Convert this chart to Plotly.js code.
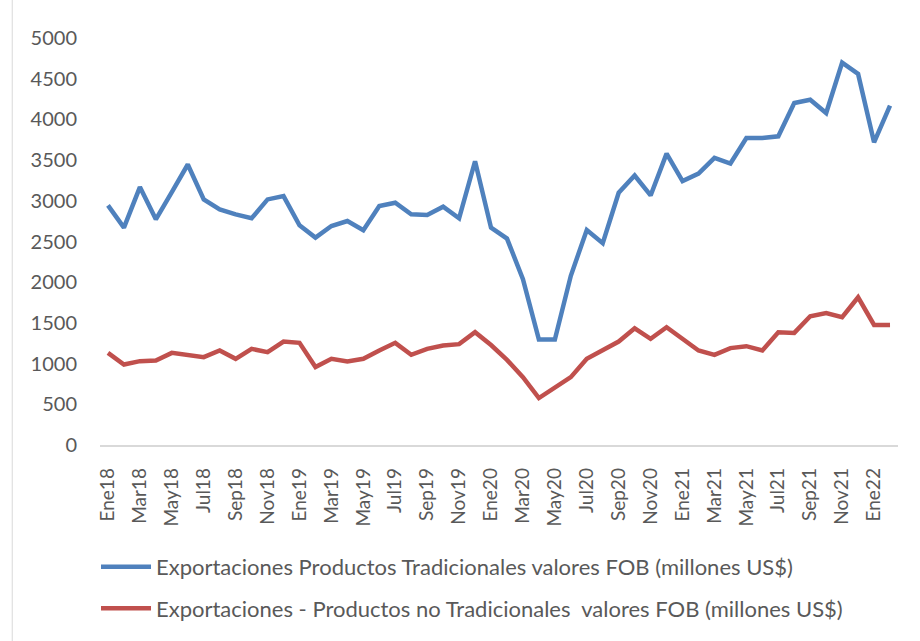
<!DOCTYPE html>
<html>
<head>
<meta charset="utf-8">
<script src="https://cdn.plot.ly/plotly-3.0.1.min.js"></script>
<style>html,body{margin:0;padding:0;background:#fff;}#chart{width:920px;height:641px;}</style>
</head>
<body>
<div id="chart"></div>
<script>
const monthNames = ["Ene","Feb","Mar","Abr","May","Jun","Jul","Ago","Sep","Oct","Nov","Dic"];
const years = ["18","19","20","21","22"];
const nPoints = 50;
const categories = [];
for (let i = 0; i < nPoints; i++) {
  categories.push(monthNames[i % 12] + years[Math.floor(i / 12)]);
}
const tickLabels = categories.filter((c, i) => i % 2 === 0);

const tradicionales = [
  2944, 2670, 3168, 2772, 3107, 3446, 3017, 2895, 2834, 2785,
  3017, 3058, 2699, 2548, 2690, 2752, 2638, 2935, 2976, 2834,
  2825, 2928, 2785, 3486, 2670, 2536, 2038, 1295, 1295, 2079,
  2642, 2479, 3099, 3311, 3066, 3580, 3242, 3335, 3528, 3458,
  3772, 3772, 3792, 4201, 4241, 4078, 4698, 4559, 3718, 4168
];
const noTradicionales = [
  1132, 989, 1030, 1038, 1132, 1108, 1079, 1161, 1059, 1181,
  1141, 1271, 1255, 957, 1059, 1026, 1059, 1161, 1255, 1108,
  1181, 1222, 1239, 1386, 1228, 1045, 834, 577, 712, 834,
  1059, 1161, 1271, 1434, 1304, 1446, 1295, 1161, 1108, 1190,
  1214, 1161, 1386, 1377, 1581, 1622, 1569, 1814, 1475, 1475
];
const seriesNames = [
  "Exportaciones Productos Tradicionales valores FOB (millones US$)",
  "Exportaciones - Productos no Tradicionales  valores FOB (millones US$)"
];

const font = "Lato, 'Open Sans', sans-serif";

const traces = [
  {x: categories, y: tradicionales, type: "scatter", mode: "lines", name: seriesNames[0],
   legendgroup: "a", line: {color: "#4f81bd", width: 4.5}},
  {x: categories, y: noTradicionales, type: "scatter", mode: "lines", name: seriesNames[1],
   legendgroup: "b", line: {color: "#c0504d", width: 4.5}}
];

const layout = {
  width: 920, height: 641,
  margin: {l: 100, r: 22, t: 38, b: 194.5},
  paper_bgcolor: "#ffffff", plot_bgcolor: "#ffffff",
  font: {family: font, color: "#595959"},
  showlegend: true,
  legend: {
    x: -0.005, xanchor: "left", y: -0.245, yanchor: "top",
    orientation: "v", traceorder: "grouped", tracegroupgap: 10,
    font: {size: 22, color: "#595959", family: font},
    itemwidth: 50
  },
  xaxis: {
    type: "category", range: [-0.5, nPoints - 0.5],
    tickmode: "array", tickvals: tickLabels, ticktext: tickLabels,
    tickangle: -90, tickfont: {size: 19, color: "#595959"},
    showgrid: false, zeroline: false, showline: true, linecolor: "#d9d9d9", linewidth: 1.5,
    ticks: "", ticklabelstandoff: 14, fixedrange: true
  },
  yaxis: {
    range: [0, 5000], dtick: 500, tick0: 0,
    tickfont: {size: 20, color: "#595959"},
    showgrid: false, zeroline: false, showline: false, ticks: "",
    ticklabelstandoff: 22, fixedrange: true
  },
  shapes: [
    {type: "line", xref: "paper", yref: "paper", x0: -0.11, x1: -0.11, y0: -0.6, y1: 1.1,
     line: {color: "#d9d9d9", width: 1}}
  ]
};

Plotly.newPlot("chart", traces, layout, {displayModeBar: false, staticPlot: true});
</script>
</body>
</html>
